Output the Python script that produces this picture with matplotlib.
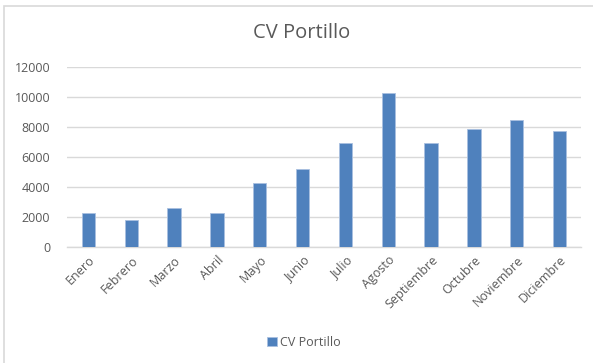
import matplotlib
matplotlib.use("Agg")
import matplotlib.pyplot as plt
from matplotlib.patches import Rectangle

# monthly totals
months = ["Enero", "Febrero", "Marzo", "Abril", "Mayo", "Junio", "Julio",
          "Agosto", "Septiembre", "Octubre", "Noviembre", "Diciembre"]
values = [2250, 1780, 2580, 2260, 4260, 5180, 6930,
          10270, 6930, 7870, 8420, 7690]
yticks = [0, 2000, 4000, 6000, 8000, 10000, 12000]
series_name = "CV Portillo"

BLUE = "#4F81BD"
GRID = "#D9D9D9"
TEXT = "#595959"

plt.rcParams["font.family"] = ["Open Sans", "DejaVu Sans"]

fig = plt.figure(figsize=(5.93, 3.63), dpi=100)
ax = fig.add_axes([67 / 593, 1 - 246.7 / 363, 514 / 593, 180 / 363])

x = range(len(months))
ax.bar(x, values, width=0.31, color=BLUE, edgecolor="#A9C0E0", linewidth=0.6,
       label=series_name, zorder=3)

ax.set_xlim(-0.5, len(months) - 0.5)
ax.set_ylim(0, 12000)
ax.set_yticks(yticks)
ax.set_yticklabels([str(t) for t in yticks], fontsize=9, color=TEXT)
ax.set_xticks(list(x))
ax.set_xticklabels(months, rotation=45, ha="right", rotation_mode="anchor",
                   fontsize=9, color=TEXT)
ax.tick_params(axis="y", length=0, pad=12)
ax.tick_params(axis="x", length=0, pad=5)

ax.grid(axis="y", color=GRID, linewidth=1, zorder=0)
for side in ["top", "right", "left"]:
    ax.spines[side].set_visible(False)
ax.spines["bottom"].set_color(GRID)
ax.spines["bottom"].set_linewidth(1)

fig.text(302 / 593, 1 - 33 / 363, series_name, ha="center", va="center",
         fontsize=14.5, color=TEXT)

fig.legend(loc="center", bbox_to_anchor=(304 / 593, 1 - 342 / 363),
           frameon=False, fontsize=9, handlelength=0.75, handleheight=0.75,
           handletextpad=0.25, labelcolor=TEXT)

# chart border (top and left edges visible)
fig.patches.append(Rectangle((4 / 593, -0.1), 1.2, 1 - 6 / 363 + 0.1,
                             transform=fig.transFigure, fill=False,
                             edgecolor=GRID, linewidth=1.2))

fig.savefig("out.png", dpi=100)
